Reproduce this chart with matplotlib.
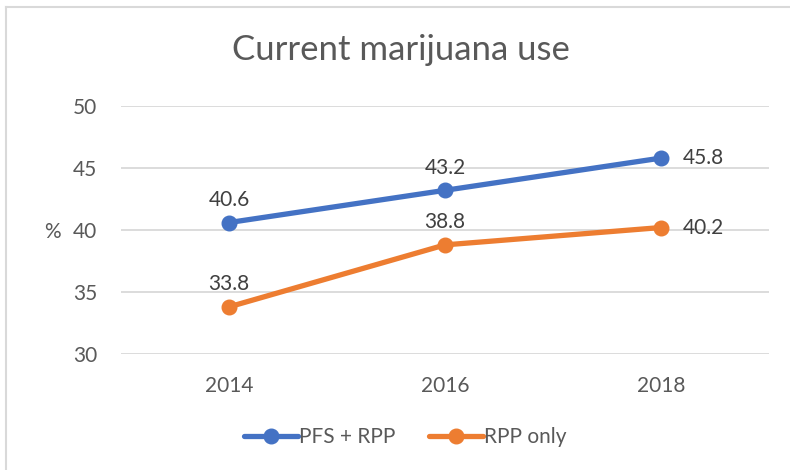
import matplotlib.pyplot as plt
import matplotlib as mpl
from matplotlib.lines import Line2D

mpl.rcParams["font.family"] = ["Lato", "DejaVu Sans"]

TEXT_COLOR = "#595959"
GRID_COLOR = "#D9D9D9"
BLUE = "#4472C4"
ORANGE = "#ED7D31"

# Data
years = ["2014", "2016", "2018"]
pfs_rpp = [40.6, 43.2, 45.8]
rpp_only = [33.8, 38.8, 40.2]
y_ticks = [30, 35, 40, 45, 50]

fig = plt.figure(figsize=(7.9, 4.7), dpi=100)
fig.patch.set_facecolor("white")

# Chart frame (left and top edges visible)
fig.add_artist(Line2D([6 / 790, 6 / 790], [0, 1 - 7 / 470], color=GRID_COLOR, lw=1.5))
fig.add_artist(Line2D([6 / 790, 1], [1 - 7 / 470, 1 - 7 / 470], color=GRID_COLOR, lw=1.5))

ax = fig.add_axes([121 / 790, 116 / 470, 648 / 790, 248 / 470])
x = range(len(years))
ax.set_xlim(-0.5, len(years) - 0.5)
ax.set_ylim(30, 50)
ax.set_yticks(y_ticks)
ax.set_xticks(list(x))
ax.set_xticklabels(years)
ax.grid(axis="y", color=GRID_COLOR, lw=1.3)
ax.set_axisbelow(True)
for s in ax.spines.values():
    s.set_visible(False)
ax.tick_params(length=0, labelsize=15, colors=TEXT_COLOR)
ax.tick_params(axis="y", pad=17)
ax.tick_params(axis="x", pad=16)

ax.plot(x, pfs_rpp, color=BLUE, lw=3.8, marker="o", ms=10.5, label="PFS + RPP",
        solid_capstyle="round", clip_on=False)
ax.plot(x, rpp_only, color=ORANGE, lw=3.8, marker="o", ms=10.5, label="RPP only",
        solid_capstyle="round", clip_on=False)

# Data labels: above for the first two points, right of the last
for series in (pfs_rpp, rpp_only):
    for i, v in enumerate(series):
        if i < len(series) - 1:
            ax.annotate(f"{v}", (i, v), xytext=(0, 9), textcoords="offset points",
                        ha="center", va="bottom", fontsize=15, color="#404040")
        else:
            ax.annotate(f"{v}", (i, v), xytext=(16, 0), textcoords="offset points",
                        ha="left", va="center", fontsize=15, color="#404040")

fig.text(52 / 790, 1 - 232 / 470, "%", fontsize=15, color=TEXT_COLOR, ha="center", va="center")
fig.text(401 / 790, 1 - 50 / 470, "Current marijuana use", fontsize=25, color=TEXT_COLOR,
         ha="center", va="center")

ax.legend(loc="center", bbox_to_anchor=(405 / 790, 1 - 437 / 470), bbox_transform=fig.transFigure,
          ncol=2, frameon=False, fontsize=15, labelcolor=TEXT_COLOR, handlelength=2.6,
          handletextpad=0.05, columnspacing=1.6)

fig.savefig("out.png", dpi=100)
